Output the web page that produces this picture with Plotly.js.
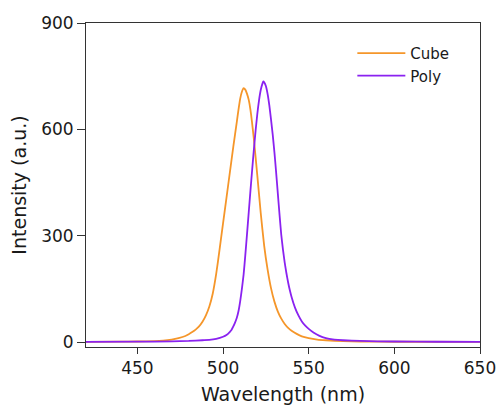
<!DOCTYPE html>
<html>
<head>
<meta charset="utf-8">
<script src="https://cdn.plot.ly/plotly-3.0.1.min.js"></script>
<style>html,body{margin:0;padding:0;background:#fff;}#chart{width:499px;height:409px;}</style>
</head>
<body>
<div id="chart"></div>
<script>
// Cube spectrum (wavelength nm, intensity a.u.)
const cubeWavelength = [420,440,450,460,465,470,474,478,480,482,484,486,488,490,492,494,496,498,500,502,504,506,508,509,510,511,512,513,514,515,516,518,520,522,524,526,528,530,532,534,536,538,540,543,546,550,555,560,570,580,600,650];
const cubeIntensity  = [0.5,1,1.5,2.5,4,7,11,17,22,28,35,44,57,75,100,137,192,262,335,407,479,551,620,655,686,706,716,712,700,683,655,572,470,364,272,205,152,114,86,66,51,40,32,23,16,11,7,5,2.5,1.5,0.8,0.4];

// Poly spectrum
const polyWavelength = [420,450,470,480,488,492,496,500,502,504,505,506,507,508,509,510,511,512,513,514,515,516,517,518,519,520,521,522,523,523.5,524,525,526,527,528,529,530,531,532,533,534,535,536,537,538,539,540,542,544,546,548,550,553,556,560,565,570,580,600,625,650];
const polyIntensity  = [0.5,1,2,3,5,6,9,15,20,29,35,44,55,68,87,115,150,190,245,305,366,427,486,543,596,643,682,711,729,735,733,722,700,668,628,585,535,478,418,358,302,260,224,194,168,146,127,97,75,58,46,37,26,18,11,7,5,3,1.5,0.8,0.5];

const seriesNames = ["Cube","Poly"];
const xTicks = [450,500,550,600,650];
const yTicks = [0,300,600,900];

const font = "DejaVu Sans, Liberation Sans, Arial, sans-serif";
const txt = "#1a1a1a";
const traces = [
  {x: cubeWavelength, y: cubeIntensity, name: seriesNames[0], mode: "lines",
   line: {color: "#F5962A", width: 1.8, shape: "spline", smoothing: 0.5}},
  {x: polyWavelength, y: polyIntensity, name: seriesNames[1], mode: "lines",
   line: {color: "#8A22F0", width: 1.8, shape: "spline", smoothing: 0.5}}
];
const layout = {
  width: 499, height: 409,
  margin: {l: 86, r: 19, t: 23, b: 62},
  paper_bgcolor: "#fff", plot_bgcolor: "#fff",
  font: {family: font, color: txt},
  showlegend: true,
  legend: {x: 0.676, y: 0.957, xanchor: "left", yanchor: "top", bgcolor: "rgba(0,0,0,0)",
           font: {size: 15, family: font, color: txt}, tracegroupgap: 0, itemwidth: 48},
  xaxis: {range: [420, 650], tickvals: xTicks, ticktext: xTicks.map(String),
          ticks: "outside", ticklen: 6, tickwidth: 1, tickcolor: "#333",
          showline: true, linecolor: "#333", linewidth: 1, mirror: true,
          showgrid: false, zeroline: false,
          tickfont: {size: 17, family: font, color: txt},
          title: {text: "Wavelength (nm)", font: {size: 19, family: font, color: txt}, standoff: 10}},
  yaxis: {range: [-14, 900], tickvals: yTicks, ticktext: yTicks.map(String),
          ticks: "outside", ticklen: 8, tickwidth: 1, tickcolor: "#333",
          showline: true, linecolor: "#333", linewidth: 1, mirror: true,
          showgrid: false, zeroline: false,
          tickfont: {size: 17, family: font, color: txt},
          title: {text: "Intensity (a.u.)", font: {size: 19, family: font, color: txt}, standoff: 9}}
};
Plotly.newPlot("chart", traces, layout, {staticPlot: true, displayModeBar: false});
</script>
</body>
</html>
